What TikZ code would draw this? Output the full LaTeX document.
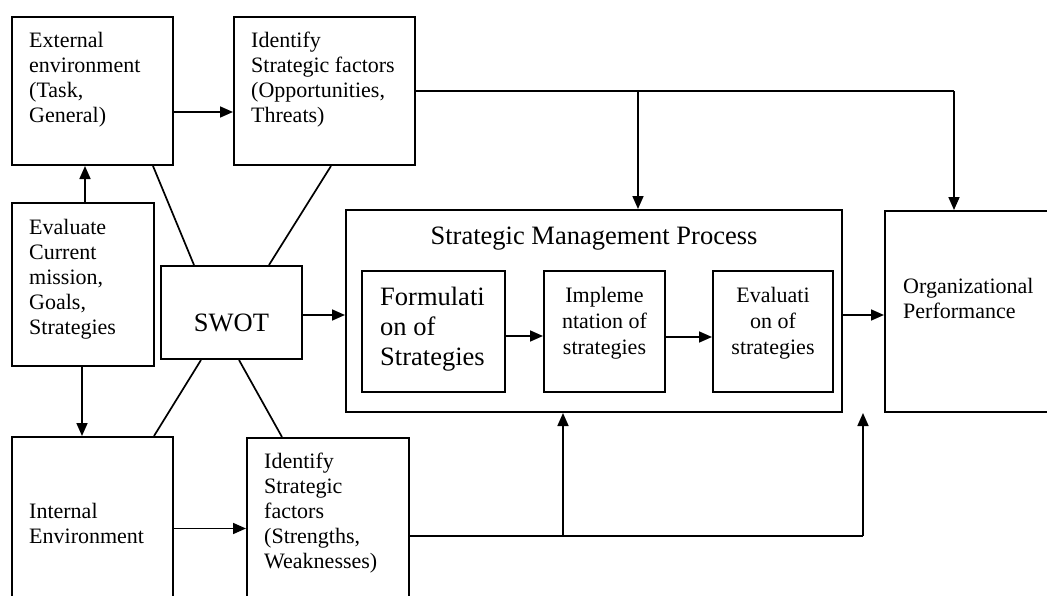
\documentclass[tikz,border=0pt]{standalone}
\usepackage{fontspec}
\setmainfont{Liberation Serif}
\usetikzlibrary{arrows.meta,calc}
\begin{document}
\begin{tikzpicture}[x=1pt,y=-1pt,
  box/.style={draw,line width=2pt,rectangle,inner sep=0pt},
  conn/.style={line width=1.7pt},
  arr/.style={line width=1.7pt,-{Triangle[length=13pt,width=11pt]}},
  txt/.style={inner sep=0pt,align=left,font=\fontsize{22}{25}\selectfont},
  ctxt/.style={inner sep=0pt,align=center,font=\fontsize{22}{26}\selectfont},
  big/.style={inner sep=0pt,align=left,font=\fontsize{26.5}{30}\selectfont}]
\useasboundingbox (0,0) rectangle (1047,595);
\clip (0,0) rectangle (1047,595);
% boxes
\node[box,minimum width=161pt,minimum height=148pt] (ext) at (92.5,91) {};
\node[box,minimum width=181pt,minimum height=148pt] (opp) at (324.5,91) {};
\node[box,minimum width=142pt,minimum height=163pt] (evl) at (83,284.5) {};
\node[box,minimum width=141pt,minimum height=93pt] (swot) at (231.5,312.5) {};
\node[box,minimum width=496pt,minimum height=202pt] (smp) at (594,311) {};
\node[box,minimum width=143pt,minimum height=121pt] (form) at (433.5,331.5) {};
\node[box,minimum width=121pt,minimum height=121pt] (impl) at (604.5,331.5) {};
\node[box,minimum width=120pt,minimum height=121pt] (eval) at (773,331.5) {};
\node[box,minimum width=175pt,minimum height=201pt] (org) at (972.5,311.5) {};
\node[box,minimum width=161pt,minimum height=183pt] (int) at (92.5,528.5) {};
\node[box,minimum width=162pt,minimum height=182pt] (str) at (328,529) {};
% texts
\node[txt,anchor=north west] (extT) at (29,32) {External\\environment\\(Task,\\General)};
\node[txt,anchor=north west] (oppT) at (251,32) {Identify\\Strategic factors\\(Opportunities,\\Threats)};
\node[txt,anchor=north west] (evlT) at (29,219) {Evaluate\\Current\\mission,\\Goals,\\Strategies};
\node[inner sep=0pt,anchor=base,font=\fontsize{26.5}{30}\selectfont] (swotT) at (231.5,331.7) {SWOT};
\node[inner sep=0pt,anchor=base,font=\fontsize{26.5}{30}\selectfont] (smpT) at (594,244) {Strategic Management Process};
\node[big,anchor=north west] (formT) at (380,286.5) {Formulati\\on of\\Strategies};
\node[ctxt,anchor=north] (implT) at (604.5,287) {Impleme\\ntation of\\strategies};
\node[ctxt,anchor=north] (evalT) at (773,287) {Evaluati\\on of\\strategies};
\node[txt,anchor=north west] (orgT) at (903,278) {Organizational\\Performance};
\node[txt,anchor=north west] (intT) at (29,503) {Internal\\Environment};
\node[txt,anchor=north west] (strT) at (264,453) {Identify\\Strategic\\factors\\(Strengths,\\Weaknesses)};
% connectors
\draw[arr] ([yshift=-21pt]ext.east) -- ([yshift=-21pt]ext.east -| opp.west);
\draw[arr] ([xshift=2pt]evl.north) -- ([xshift=2pt]evl.north |- ext.south);
\draw[arr] ([xshift=-1pt]evl.south) -- ([xshift=-1pt]evl.south |- int.north);
\draw[arr] ([yshift=-2.5pt]swot.east) -- ([yshift=-2.5pt]swot.east -| smp.west);
\draw[arr] ([yshift=-4.5pt]form.east) -- ([yshift=-4.5pt]form.east -| impl.west);
\draw[arr] ([yshift=-5.5pt]impl.east) -- ([yshift=-5.5pt]impl.east -| eval.west);
\draw[arr] ([yshift=-4pt]smp.east) -- ([yshift=-4pt]smp.east -| org.west);
\draw[arr] (int.east) -- (int.east -| str.west);
% top feedback
\coordinate (tr) at (954,91);
\coordinate (tb) at (638,91);
\draw[conn] (opp.east) -- (tr);
\draw[arr] (tr) -- (tr |- org.north);
\draw[arr] (tb) -- (tb |- smp.north);
% bottom feedback
\coordinate (br) at (863,536);
\coordinate (bb) at (563,536);
\draw[conn] ([yshift=-7pt]str.east) -- (br);
\draw[arr] (br) -- (br |- org.south);
\draw[arr] (bb) -- (bb |- smp.south);
% SWOT links
\draw[conn] ([xshift=60.5pt]ext.south) -- ([xshift=-37.5pt]swot.north);
\draw[conn] ([xshift=6.5pt]opp.south) -- ([xshift=37.5pt]swot.north);
\draw[conn] ([xshift=-30.5pt]swot.south) -- ([xshift=61.5pt]int.north);
\draw[conn] ([xshift=7.5pt]swot.south) -- ([xshift=-46pt]str.north);
\end{tikzpicture}
\end{document}
